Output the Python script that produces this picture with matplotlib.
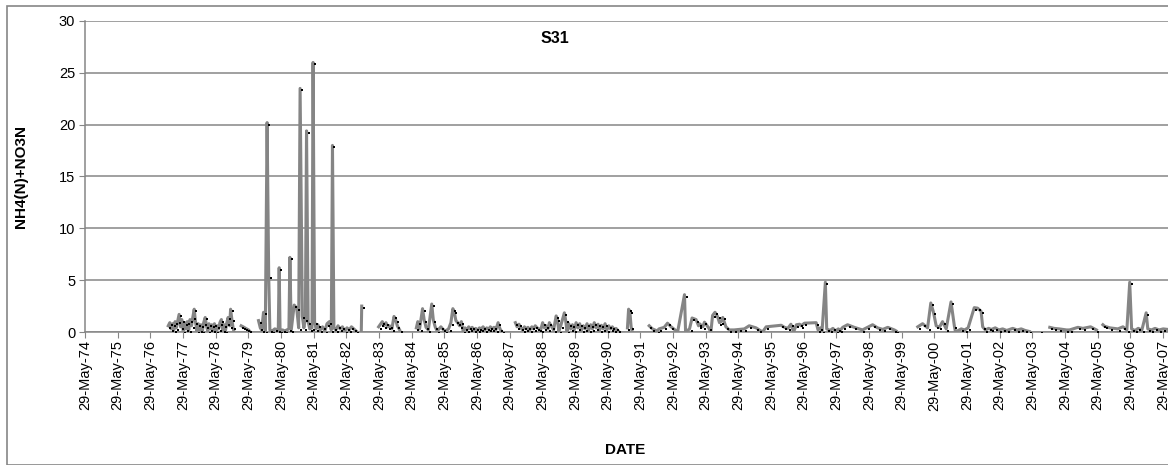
import numpy as np
import matplotlib
matplotlib.use("Agg")
import matplotlib.pyplot as plt
import matplotlib.dates as mdates
from matplotlib.transforms import ScaledTranslation
from matplotlib.patches import Rectangle

nan = np.nan

# Station S31: NH4(N)+NO3N concentration by sample date (gaps = no sampling)
dates_1976_1979 = [
    '1976-12-15', '1977-01-01', '1977-01-15', '1977-02-01', '1977-02-15', '1977-03-01',
    '1977-03-15', '1977-04-01', '1977-04-15', '1977-05-01', '1977-05-15', '1977-06-01',
    '1977-06-15', '1977-07-01', '1977-07-15', '1977-08-01', '1977-08-15', '1977-09-01',
    '1977-09-15', '1977-10-01', '1977-10-15', '1977-11-01', '1977-11-15', '1977-12-01',
    '1977-12-15', '1978-01-01', '1978-01-15', '1978-02-01', '1978-02-15', '1978-03-01',
    '1978-03-15', '1978-04-01', '1978-04-15', '1978-05-01', '1978-05-15', '1978-06-01',
    '1978-06-15', '1978-07-01', '1978-07-15', '1978-08-01', '1978-08-15', '1978-09-01',
    '1978-09-15', '1978-10-01', '1978-10-15', '1978-11-01', '1978-11-12', '1978-11-25',
    '1978-12-08', '1978-12-20', '1979-01-20', '1979-03-10', '1979-04-01', '1979-04-20',
    '1979-05-10', '1979-06-01', '1979-06-20', '1979-07-20', '1979-09-20', '1979-10-10',
    '1979-10-25', '1979-11-15', '1979-12-05', '1979-12-25',
]
nitrogen_1976_1979 = [
    0.6, 0.9, 0.3, 0.8, 0.2, 1.0,
    0.4, 1.1, 1.7, 0.5, 1.2, 0.1,
    0.9, 0.3, 1.0, 0.2, 1.2, 0.6,
    1.4, 2.2, 1.0, 0.1, 0.8, 0.2,
    0.7, 0.1, 0.9, 1.4, 0.6, 0.1,
    0.8, 0.3, 0.7, 0.2, 0.8, 0.1,
    0.6, 0.3, 0.9, 1.2, 0.2, 0.7,
    0.1, 0.9, 1.4, 0.6, 2.2, 1.3,
    0.5, 0.0, nan, 0.6, 0.5, 0.4,
    0.3, 0.2, 0.0, nan, 1.1, 0.4,
    0.2, 1.9, 0.1, 20.2,
]

dates_1980_1984 = [
    '1980-01-12', '1980-01-25', '1980-02-20', '1980-03-20', '1980-04-28', '1980-05-08',
    '1980-05-18', '1980-06-15', '1980-07-10', '1980-08-25', '1980-09-05', '1980-09-20',
    '1980-10-23', '1980-11-20', '1980-12-12', '1980-12-28', '1981-01-22', '1981-02-08',
    '1981-02-25', '1981-03-10', '1981-03-28', '1981-04-15', '1981-05-10', '1981-05-22',
    '1981-06-08', '1981-06-25', '1981-07-15', '1981-08-10', '1981-09-05', '1981-10-01',
    '1981-10-25', '1981-11-20', '1981-12-12', '1981-12-25', '1982-01-10', '1982-02-01',
    '1982-02-25', '1982-03-20', '1982-04-15', '1982-05-10', '1982-06-05', '1982-07-01',
    '1982-07-25', '1982-08-20', '1982-09-15', '1982-10-10', '1982-11-12', '1982-11-17',
    '1982-12-15', '1983-05-25', '1983-06-15', '1983-07-05', '1983-07-25', '1983-08-15',
    '1983-09-05', '1983-09-25', '1983-10-20', '1983-11-13', '1983-12-01', '1983-12-20',
    '1984-01-15', '1984-03-01', '1984-07-20', '1984-08-05', '1984-08-25', '1984-09-27',
    '1984-10-15', '1984-11-05', '1984-12-01',
]
nitrogen_1980_1984 = [
    5.4, 0.2, 0.1, 0.3, 0.2, 6.2,
    0.1, 0.2, 0.1, 0.3, 7.2, 0.2,
    2.6, 2.3, 0.4, 23.5, 1.5, 0.4,
    1.3, 19.4, 1.0, 0.3, 0.4, 26.0,
    1.0, 0.3, 0.7, 0.2, 0.5, 0.1,
    0.8, 1.0, 0.2, 18.0, 0.4, 0.2,
    0.6, 0.3, 0.5, 0.1, 0.4, 0.2,
    0.5, 0.3, 0.1, nan, 0.0, 2.5,
    nan, 0.5, 0.75, 1.0, 0.6, 0.9,
    0.5, 0.6, 0.3, 1.5, 1.2, 0.6,
    0.2, nan, 0.4, 1.0, 0.3, 2.25,
    1.2, 0.45, 0.2,
]

dates_1985_1989 = [
    '1985-01-08', '1985-01-25', '1985-02-15', '1985-03-10', '1985-04-20', '1985-05-15',
    '1985-06-10', '1985-07-15', '1985-08-10', '1985-09-01', '1985-09-15', '1985-10-05',
    '1985-10-25', '1985-11-15', '1985-12-05', '1985-12-25', '1986-01-15', '1986-02-05',
    '1986-02-25', '1986-03-15', '1986-04-05', '1986-04-25', '1986-05-15', '1986-06-05',
    '1986-06-25', '1986-07-15', '1986-08-05', '1986-08-25', '1986-09-15', '1986-10-05',
    '1986-10-25', '1986-11-15', '1986-12-05', '1986-12-25', '1987-01-20', '1987-02-10',
    '1987-03-01', '1987-04-15', '1987-08-01', '1987-08-20', '1987-09-10', '1987-10-01',
    '1987-10-20', '1987-11-10', '1987-12-01', '1987-12-20', '1988-01-10', '1988-02-01',
    '1988-02-20', '1988-03-10', '1988-04-01', '1988-04-20', '1988-05-10', '1988-06-01',
    '1988-06-20', '1988-07-10', '1988-08-01', '1988-08-15', '1988-09-10', '1988-10-01',
    '1988-10-30', '1988-11-12', '1988-11-28', '1988-12-20', '1989-01-30', '1989-02-12',
    '1989-02-28', '1989-03-20', '1989-04-10', '1989-04-30', '1989-05-20', '1989-06-10',
    '1989-06-30', '1989-07-20', '1989-08-10', '1989-08-30', '1989-09-20', '1989-10-10',
    '1989-10-30', '1989-11-20', '1989-12-10', '1989-12-30',
]
nitrogen_1985_1989 = [
    2.7, 1.2, 0.5, 0.1, 0.5, 0.25,
    0.1, 0.3, 0.9, 2.25, 2.0, 1.1,
    0.9, 0.6, 1.0, 0.1, 0.4, 0.2,
    0.5, 0.3, 0.45, 0.2, 0.35, 0.15,
    0.4, 0.3, 0.5, 0.2, 0.4, 0.25,
    0.5, 0.3, 0.45, 0.2, 0.9, 0.3,
    0.05, nan, 0.9, 0.5, 0.75, 0.4,
    0.2, 0.5, 0.3, 0.45, 0.2, 0.5,
    0.3, 0.6, 0.4, 0.3, 0.2, 0.9,
    0.4, 0.6, 0.3, 0.9, 0.5, 0.2,
    1.55, 1.3, 0.1, 0.6, 1.85, 1.2,
    0.1, 0.8, 0.3, 0.7, 0.2, 0.9,
    0.4, 0.8, 0.2, 0.6, 0.3, 0.8,
    0.2, 0.7, 0.3, 0.9,
]

dates_1990_1996 = [
    '1990-01-20', '1990-02-10', '1990-03-01', '1990-03-20', '1990-04-10', '1990-04-30',
    '1990-05-20', '1990-06-10', '1990-06-30', '1990-07-20', '1990-08-10', '1990-08-30',
    '1990-09-20', '1990-10-05', '1990-11-20', '1991-01-05', '1991-01-18', '1991-02-01',
    '1991-02-15', '1991-03-01', '1991-05-01', '1991-09-05', '1991-10-11', '1991-12-05',
    '1991-12-24', '1992-02-20', '1992-03-28', '1992-05-07', '1992-07-19', '1992-10-04',
    '1992-10-16', '1992-11-29', '1992-12-28', '1993-02-10', '1993-03-10', '1993-03-20',
    '1993-04-27', '1993-05-15', '1993-07-01', '1993-07-26', '1993-08-14', '1993-09-10',
    '1993-10-08', '1993-10-30', '1993-11-18', '1993-12-06', '1994-01-10', '1994-02-17',
    '1994-04-12', '1994-06-10', '1994-08-04', '1994-09-27', '1994-12-13', '1995-01-18',
    '1995-02-24', '1995-04-05', '1995-09-20', '1995-10-27', '1995-12-03', '1996-01-07',
    '1996-02-06', '1996-03-08', '1996-04-13', '1996-04-30', '1996-06-06', '1996-10-15',
    '1996-11-05', '1996-12-01', '1996-12-20',
]
nitrogen_1990_1996 = [
    0.4, 0.75, 0.2, 0.65, 0.3, 0.8,
    0.2, 0.6, 0.3, 0.5, 0.2, 0.35,
    0.15, 0.0, nan, 0.4, 2.2, 2.0,
    0.5, 0.0, nan, 0.6, 0.3, 0.1,
    0.3, 0.45, 0.85, 0.5, 0.0, 3.6,
    0.0, 0.3, 1.35, 1.2, 0.6, 0.8,
    0.5, 0.95, 0.4, 0.0, 1.6, 1.9,
    1.5, 0.9, 1.0, 1.4, 0.5, 0.2,
    0.2, 0.25, 0.3, 0.6, 0.4, 0.2,
    0.0, 0.5, 0.65, 0.45, 0.35, 0.75,
    0.0, 0.7, 0.75, 0.6, 0.85, 0.9,
    0.2, 0.4, 0.1,
]

dates_1997_2007 = [
    '1997-01-26', '1997-02-10', '1997-03-20', '1997-04-20', '1997-05-20', '1997-06-20',
    '1997-07-10', '1997-08-08', '1997-10-01', '1997-12-15', '1998-03-17', '1998-05-12',
    '1998-07-08', '1998-09-02', '1998-10-30', '1998-12-25', '1999-03-08', '1999-03-28',
    '1999-06-01', '1999-11-25', '2000-01-18', '2000-03-14', '2000-04-19', '2000-05-19',
    '2000-06-18', '2000-07-24', '2000-08-28', '2000-10-08', '2000-12-01', '2001-01-07',
    '2001-01-20', '2001-03-25', '2001-05-01', '2001-06-10', '2001-08-18', '2001-09-24',
    '2001-11-02', '2001-11-20', '2001-12-20', '2002-01-25', '2002-02-25', '2002-04-10',
    '2002-05-20', '2002-07-01', '2002-08-15', '2002-10-22', '2002-12-10', '2003-01-25',
    '2003-03-10', '2003-04-26', '2003-06-01', '2003-08-18', '2003-10-01', '2003-12-10',
    '2004-01-27', '2004-03-25', '2004-06-14', '2004-07-18', '2004-10-20', '2004-12-15',
    '2005-03-10', '2005-05-15', '2005-06-15', '2005-07-26', '2005-08-15', '2005-10-12',
    '2006-01-10', '2006-03-07', '2006-04-20', '2006-05-22', '2006-06-12', '2006-07-20',
    '2006-08-25', '2006-10-05', '2006-11-22', '2006-12-10', '2007-01-20', '2007-03-01',
    '2007-04-15', '2007-06-01', '2007-07-20',
]
nitrogen_1997_2007 = [
    4.8, 0.3, 0.15, 0.35, 0.1, 0.3,
    0.15, 0.45, 0.7, 0.45, 0.2, 0.45,
    0.7, 0.4, 0.25, 0.45, 0.2, 0.1,
    nan, 0.5, 0.8, 0.4, 2.8, 1.9,
    0.6, 0.45, 1.0, 0.3, 2.9, 0.6,
    0.0, 0.3, 0.2, 0.4, 2.35, 2.3,
    2.0, 0.5, 0.2, 0.35, 0.25, 0.4,
    0.2, 0.3, 0.15, 0.35, 0.2, 0.3,
    0.15, 0.05, nan, 0.1, nan, 0.45,
    0.35, 0.3, 0.2, 0.2, 0.45, 0.35,
    0.5, 0.2, nan, 0.7, 0.55, 0.4,
    0.3, 0.5, 0.2, 4.8, 0.3, 0.15,
    0.35, 0.2, 1.85, 0.3, 0.2, 0.35,
    0.2, 0.3, 0.25,
]

y_ticks = [0, 5, 10, 15, 20, 25, 30]
title_text = "S31"
y_label = "NH4(N)+NO3N"
x_label = "DATE"

sample_dates = np.concatenate([
    np.array(dates_1976_1979, dtype="datetime64[D]"),
    np.array(dates_1980_1984, dtype="datetime64[D]"),
    np.array(dates_1985_1989, dtype="datetime64[D]"),
    np.array(dates_1990_1996, dtype="datetime64[D]"),
    np.array(dates_1997_2007, dtype="datetime64[D]"),
])
nitrogen = np.concatenate([
    np.array(nitrogen_1976_1979, dtype=float),
    np.array(nitrogen_1980_1984, dtype=float),
    np.array(nitrogen_1985_1989, dtype=float),
    np.array(nitrogen_1990_1996, dtype=float),
    np.array(nitrogen_1997_2007, dtype=float),
])

plt.rcParams["font.family"] = ["Liberation Sans", "DejaVu Sans"]

W, H = 1168, 465
fig = plt.figure(figsize=(W / 100, H / 100), dpi=100)
fig.patch.set_facecolor("white")

# chart-area frame
fig.patches.append(Rectangle((7 / W, 0), 2.0, 1 - 6 / H, transform=fig.transFigure,
                             fill=False, edgecolor="#868686", linewidth=1.2))

ax = fig.add_axes([85 / W, 1 - 332 / H, (W - 85) / W, (332 - 21) / H])
grid_c = "#868686"

ax.plot(sample_dates, nitrogen, color="#858585", linewidth=2.2, zorder=3)
marker_shift = ScaledTranslation(0.02, -0.02, fig.dpi_scale_trans)
ax.plot(sample_dates, nitrogen, linestyle="none", marker="s", markersize=1.6,
        color="black", markeredgewidth=0, zorder=4,
        transform=ax.transData + marker_shift)

ax.set_ylim(0, 30)
ax.set_yticks(y_ticks)
ax.set_xlim(np.datetime64("1974-05-29"), np.datetime64("2007-07-24"))
ax.xaxis.set_major_locator(mdates.YearLocator(1, month=5, day=29))
ax.xaxis.set_major_formatter(mdates.DateFormatter("%d-%b-%y"))

ax.grid(axis="y", color=grid_c, linewidth=1.1, zorder=0)
ax.set_axisbelow(True)
for side in ("top", "right"):
    ax.spines[side].set_visible(False)
for side in ("left", "bottom"):
    ax.spines[side].set_color(grid_c)
    ax.spines[side].set_linewidth(1.1)

ax.tick_params(axis="y", labelsize=10.5, length=4, color=grid_c, pad=3)
ax.tick_params(axis="x", labelsize=10.5, length=4, color=grid_c, pad=2,
               labelrotation=90)

fig.text(555 / W, 1 - 38 / H, title_text, ha="center", va="center",
         fontsize=11.5, fontweight="bold")
fig.text(21 / W, 1 - 177 / H, y_label, ha="center", va="center", rotation=90,
         fontsize=11, fontweight="bold")
fig.text(625 / W, 1 - 450 / H, x_label, ha="center", va="center",
         fontsize=11, fontweight="bold")

fig.savefig("out.png", dpi=100, facecolor="white")
